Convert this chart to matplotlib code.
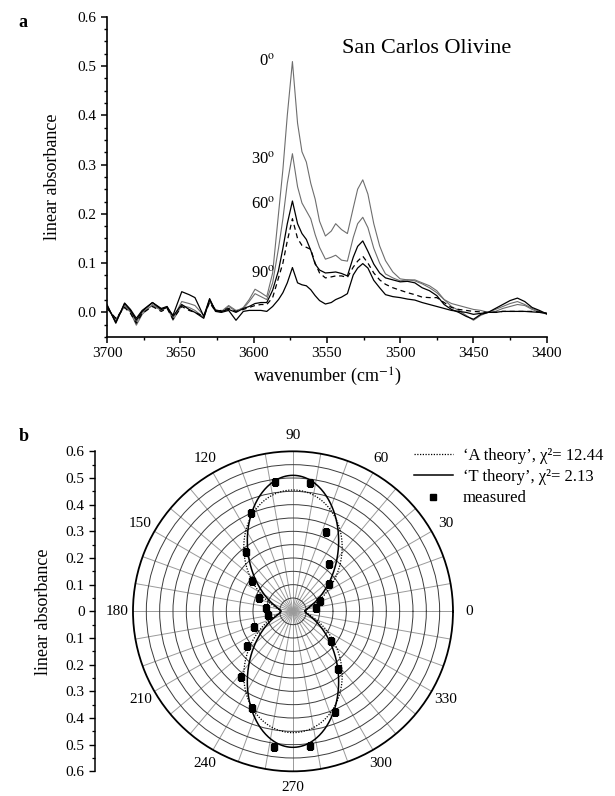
import matplotlib
matplotlib.use("Agg")
import matplotlib.pyplot as plt
import numpy as np
from matplotlib.lines import Line2D
from matplotlib.ticker import MultipleLocator, FuncFormatter

plt.rcParams["font.family"] = ["Liberation Serif", "DejaVu Serif"]
plt.rcParams["mathtext.fontset"] = "stix"

# ---- panel a: polarized spectra ----
wavenumber = [3700, 3694, 3688, 3684, 3680, 3676, 3669, 3663, 3659, 3655,
              3649, 3644, 3640, 3634, 3630, 3626, 3622, 3617, 3612, 3607,
              3603, 3599, 3595, 3591, 3587, 3583, 3580, 3577, 3573.5, 3570,
              3567, 3564, 3561, 3558, 3555, 3551, 3547, 3544, 3540, 3536,
              3532, 3529, 3525.5, 3522, 3518, 3514, 3510, 3505, 3500, 3495,
              3490, 3485, 3480, 3475, 3470, 3465, 3460, 3455, 3450, 3445,
              3440, 3435, 3430, 3425, 3420, 3415, 3410, 3405, 3400]

abs_0 = [0.012, -0.018, 0.014, 0.000, -0.026, -0.004, 0.016, 0.006, 0.012, -0.016,
         0.014, 0.010, 0.004, -0.010, 0.024, 0.004, 0.000, 0.012, 0.002, 0.010,
         0.026, 0.047, 0.040, 0.032, 0.080, 0.200, 0.290, 0.400, 0.509, 0.384,
         0.326, 0.305, 0.262, 0.230, 0.185, 0.155, 0.165, 0.180, 0.168, 0.160,
         0.212, 0.250, 0.269, 0.240, 0.180, 0.135, 0.105, 0.082, 0.068, 0.066,
         0.066, 0.060, 0.054, 0.044, 0.026, 0.018, 0.014, 0.010, 0.006, 0.004,
         0.000, 0.006, 0.012, 0.018, 0.022, 0.016, 0.008, 0.002, -0.004]

abs_30 = [0.010, -0.014, 0.012, 0.002, -0.020, 0.000, 0.014, 0.004, 0.010, -0.012,
          0.022, 0.018, 0.014, -0.006, 0.022, 0.006, 0.002, 0.014, 0.004, 0.008,
          0.022, 0.038, 0.032, 0.026, 0.060, 0.130, 0.190, 0.262, 0.322, 0.255,
          0.222, 0.206, 0.190, 0.158, 0.132, 0.108, 0.112, 0.116, 0.106, 0.104,
          0.152, 0.180, 0.193, 0.172, 0.130, 0.100, 0.078, 0.070, 0.064, 0.066,
          0.064, 0.058, 0.050, 0.040, 0.026, 0.012, 0.004, -0.006, -0.016, -0.006,
          0.000, 0.002, 0.008, 0.012, 0.016, 0.014, 0.006, 0.000, -0.002]

abs_60 = [0.014, -0.020, 0.018, 0.004, -0.016, 0.002, 0.020, 0.008, 0.012, -0.008,
          0.016, 0.006, 0.000, -0.012, 0.026, 0.004, 0.002, 0.006, 0.000, 0.008,
          0.012, 0.018, 0.020, 0.020, 0.045, 0.085, 0.130, 0.180, 0.226, 0.180,
          0.160, 0.148, 0.126, 0.098, 0.086, 0.080, 0.081, 0.082, 0.079, 0.074,
          0.112, 0.134, 0.145, 0.124, 0.098, 0.080, 0.070, 0.066, 0.062, 0.063,
          0.060, 0.050, 0.044, 0.034, 0.016, 0.006, 0.000, -0.008, -0.014, -0.004,
          0.000, 0.008, 0.016, 0.024, 0.029, 0.022, 0.010, 0.004, -0.003]

abs_75 = [0.008, -0.012, 0.010, -0.002, -0.022, -0.002, 0.012, 0.002, 0.008, -0.014,
          0.012, 0.004, 0.000, -0.008, 0.020, 0.002, 0.004, 0.008, 0.002, 0.006,
          0.010, 0.014, 0.016, 0.016, 0.030, 0.070, 0.100, 0.145, 0.190, 0.150,
          0.136, 0.132, 0.128, 0.100, 0.080, 0.070, 0.072, 0.074, 0.074, 0.071,
          0.092, 0.104, 0.114, 0.100, 0.080, 0.066, 0.057, 0.050, 0.045, 0.040,
          0.036, 0.031, 0.030, 0.030, 0.020, 0.010, 0.006, 0.004, 0.002, 0.001,
          0.000, 0.000, 0.002, 0.002, 0.002, 0.002, 0.002, 0.001, -0.002]

abs_90 = [0.016, -0.022, 0.019, 0.006, -0.012, 0.004, 0.020, 0.006, 0.010, -0.006,
          0.042, 0.036, 0.030, -0.008, 0.028, 0.002, 0.000, 0.004, -0.016, 0.002,
          0.004, 0.004, 0.004, 0.002, 0.012, 0.026, 0.040, 0.060, 0.091, 0.060,
          0.056, 0.054, 0.046, 0.034, 0.024, 0.017, 0.020, 0.026, 0.031, 0.038,
          0.076, 0.090, 0.099, 0.090, 0.065, 0.050, 0.036, 0.032, 0.030, 0.027,
          0.025, 0.020, 0.016, 0.012, 0.008, 0.004, 0.002, 0.000, -0.004, -0.002,
          0.000, 0.000, 0.002, 0.002, 0.002, 0.002, 0.001, 0.000, -0.002]

angle_labels = ["0$^{\\mathrm{o}}$", "30$^{\\mathrm{o}}$", "60$^{\\mathrm{o}}$", "90$^{\\mathrm{o}}$"]
angle_label_y = [0.51, 0.31, 0.22, 0.08]

# ---- panel b: polar plot ----
meas_angle = [97.8, 82.6, 112.9, 67.2, 128.3, 52.5, 143.5, 37.1, 157.8, 21.4, 172.4,
              7.2, 187.6, 202.5, 322.6, 217.0, 308.0, 231.8, 246.8, 292.6, 262.1, 277.3]
meas_abs = [0.488, 0.487, 0.400, 0.322, 0.282, 0.223, 0.192, 0.171, 0.136, 0.107, 0.102,
            0.087, 0.093, 0.157, 0.181, 0.215, 0.274, 0.314, 0.394, 0.409, 0.513, 0.509]

a_theory_max, a_theory_min = 0.455, 0.045
t_theory_max, t_theory_min = 0.51, 0.045

fig = plt.figure(figsize=(6.15, 7.96), dpi=100)

# panel a
ax = fig.add_axes([0.174, 0.5766, 0.715, 0.4024])
ax.plot(wavenumber, abs_0, color="#6e6e6e", lw=0.8)
ax.plot(wavenumber, abs_30, color="#6e6e6e", lw=0.8)
ax.plot(wavenumber, abs_60, color="black", lw=0.9)
ax.plot(wavenumber, abs_75, color="black", lw=0.9, ls=(0, (4, 3)))
ax.plot(wavenumber, abs_90, color="black", lw=0.9)
ax.set_xlim(3700, 3400)
ax.set_ylim(-0.05, 0.6)
ax.spines["top"].set_visible(False)
ax.spines["right"].set_visible(False)
for s in ["left", "bottom"]:
    ax.spines[s].set_linewidth(1.2)
ax.xaxis.set_major_locator(MultipleLocator(50))
ax.xaxis.set_minor_locator(MultipleLocator(25))
ax.yaxis.set_major_locator(MultipleLocator(0.1))
ax.yaxis.set_minor_locator(MultipleLocator(0.025))
ax.yaxis.set_major_formatter(FuncFormatter(lambda v, p: f"{v:.1f}"))
ax.tick_params(which="major", direction="out", length=4, width=1.1, labelsize=11)
ax.tick_params(which="minor", direction="out", length=2.5, width=1.0)
ax.set_xlabel("wavenumber (cm$^{-1}$)", fontsize=13, labelpad=4)
ax.set_ylabel("linear absorbance", fontsize=13, labelpad=12)
for lab, y in zip(angle_labels, angle_label_y):
    ax.text(3585, y, lab, ha="right", va="center", fontsize=12)
ax.text(3540, 0.535, "San Carlos Olivine", ha="left", va="center", fontsize=16)
fig.text(0.03, 0.982, "a", fontsize=13, fontweight="bold", va="top")

# panel b
pb = [0.2114, 0.031, 0.530, 0.402]
pax = fig.add_axes(pb, projection="polar")
theta = np.linspace(0, 2 * np.pi, 721)
a_curve = a_theory_max * np.sin(theta) ** 2 + a_theory_min * np.cos(theta) ** 2
t_curve = -np.log10(np.sin(theta) ** 2 * 10 ** (-t_theory_max)
                    + np.cos(theta) ** 2 * 10 ** (-t_theory_min))
pax.plot(theta, a_curve, color="black", lw=0.9, ls=(0, (1, 1.2)), zorder=3)
pax.plot(theta, t_curve, color="black", lw=1.1, zorder=3)
pax.plot(np.deg2rad(meas_angle), meas_abs, ls="none", marker="s", ms=5,
         color="black", zorder=4)
pax.set_ylim(0, 0.6)
pax.set_yticks(np.arange(0.05, 0.6, 0.05))
pax.set_yticklabels([])
ticks = np.arange(0, 360, 10)
pax.set_xticks(np.deg2rad(ticks))
pax.set_xticklabels([str(t) if t % 30 == 0 else "" for t in ticks], fontsize=11)
pax.tick_params(axis="x", pad=1)
pax.xaxis.grid(True, color="#9a9a9a", lw=0.7)
pax.yaxis.grid(True, color="#3c3c3c", lw=0.7)
pax.spines["polar"].set_linewidth(1.3)

leg_handles = [
    Line2D([], [], color="black", lw=0.9, ls=(0, (1, 1.2))),
    Line2D([], [], color="black", lw=1.1),
    Line2D([], [], color="black", ls="none", marker="s", ms=4.5),
]
leg_labels = ["\u2018A theory\u2019, \u03c7\u00b2= 12.44",
              "\u2018T theory\u2019, \u03c7\u00b2= 2.13",
              "measured"]
fig.legend(leg_handles, leg_labels, loc="upper left", bbox_to_anchor=(0.66, 0.448),
           frameon=False, fontsize=12, handlelength=2.3, handletextpad=0.6,
           labelspacing=0.32, borderpad=0)

# left absorbance scale for panel b
sax = fig.add_axes([0.1545, pb[1], 0.001, pb[3]])
sax.set_ylim(-0.6, 0.6)
for s in ["top", "right", "bottom"]:
    sax.spines[s].set_visible(False)
sax.spines["left"].set_linewidth(1.1)
sax.set_xticks([])
sax.yaxis.set_major_locator(MultipleLocator(0.1))
sax.yaxis.set_minor_locator(MultipleLocator(0.05))
sax.yaxis.set_major_formatter(FuncFormatter(lambda v, p: "0" if abs(v) < 1e-9 else f"{abs(v):.1f}"))
sax.tick_params(which="major", direction="out", length=4, width=1.0, labelsize=11)
sax.tick_params(which="minor", direction="out", length=2.5, width=0.9)
sax.set_ylabel("linear absorbance", fontsize=13, labelpad=10)
fig.text(0.03, 0.462, "b", fontsize=13, fontweight="bold", va="top")

fig.savefig("out.png", dpi=100)
